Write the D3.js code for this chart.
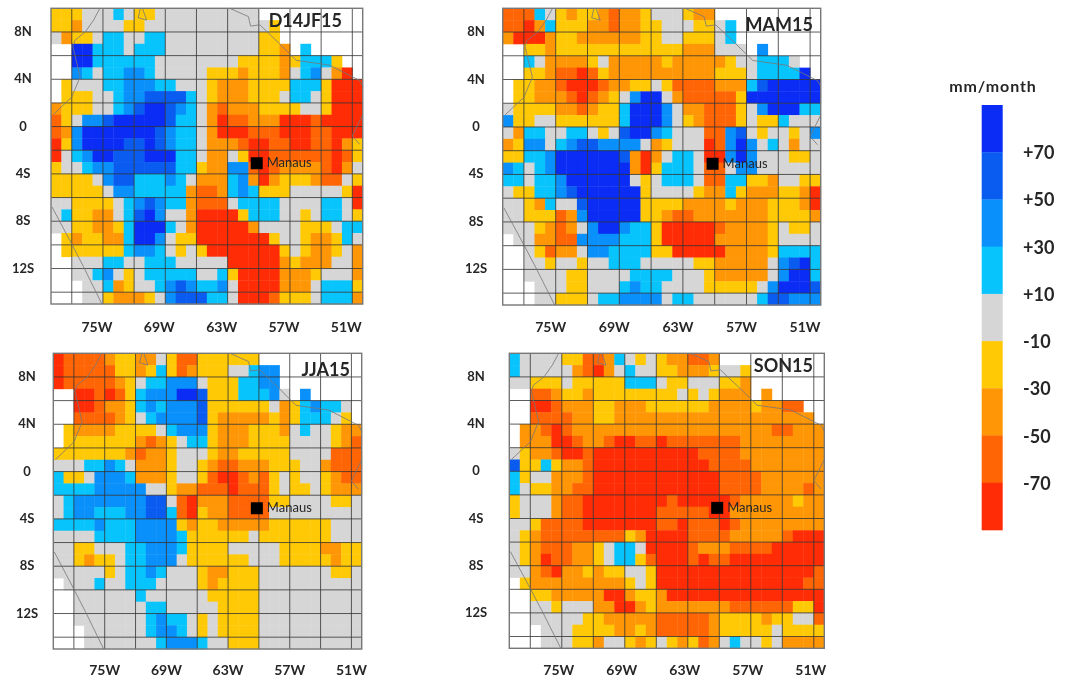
<!DOCTYPE html>
<html>

<head>
  <title>Rainfall anomalies 2015</title>
  <script src="https://d3js.org/d3.v7.min.js"></script>
  <style>
    html, body { margin: 0; padding: 0; background: #fff; }
    svg { display: block; filter: blur(0.75px); }
    text { font-family: Lato, sans-serif; fill: #262626; }
  </style>
</head>

<body>
  <svg id="chart"></svg>

<script>
  // one letter per 1 degree cell, rows run north to south, columns west to east
  // . no data, g -10..+10
  // c +10..30, s +30..50, b +50..70, n over +70
  // y -10..-30, o -30..-50, d -50..-70, r under -70
  const djfRows = [
    "yyygggcgyygggggggggg..........",
    "yyoggggyyggggggggggggy........",
    "goyygccggccgggggggggyy........",
    "..nncccgcccgggggggggyyo.c.....",
    "..nnccccccggggggggyyyyoycccy..",
    "..scgccsscgggggyyyoyyyogcsgor.",
    ".ygggccsssccgggyoooyyyycccyrrr",
    ".yyyggcssbbbbcgyoooyyygccgyrrr",
    "oyyyggcsbnnbscgodoooyyyyggyrrr",
    "dygssbnnnnnbccgorddooorrrdrrrr",
    "dosnnnnnnnbsccgorrrdddrrrddrrr",
    "rysnnnnbbnbsccgooodrrddrrddroy",
    "rgcsnnbbbnnnccgoogyrrddddddrdy",
    "yggcssbbbbbbccyoossdrdoooodrog",
    "yyyygsbbcccscgooocsoroyyyoddgy",
    "yyyyygsscccccoddocscyyygggggyr",
    "ggyyyygcsbsccodddgccccggggccgr",
    "gcyyoogcbnsggorrrrycccggygccgy",
    "ggyyooycnnncgorrrrroggggyyygcc",
    ".yoyyoocnnsgyyrrrrrrryggyooycg",
    ".yyyyyycsscgygyrrrrrrrygyooygo",
    "..gggccggcccgggggrrrrroyoooggo",
    "..ggcsgygcccccggcyrrrroooygggo",
    "...ggcoyggcsbsccsgrrrrooogcccy",
    "...ggyoooygsbbbccgrrrdyyygccco"
  ];

  const mamRows = [
    "dddcgyoyyodooygggyoo..........",
    "ddrocyyyoodooyygggyygc........",
    "orrroyyooooooyyggyyygc........",
    "..yyoyyyyyyyyyyyyoooggg.s.....",
    "..cgooooygoooooyoooooyggcccg..",
    "..yyoddrdyooooooooooyyygccccn.",
    ".yyoodrrrdooyygyddddooocbnnnnn",
    ".yyooodrdoygsnngodddddynnnnnnn",
    "gyyyyoodoyycnnnsgoodddygsnnncc",
    "syyggyyyyyycnnnsgyodddygyycggg",
    "goccggccgygbnnscgggddsbgyggygs",
    "oyssgcsbbssssgoygggrdsnsgcgogg",
    "yyccsnnnnnnborogccgrrsnsgggyyg",
    "scgcsnnnnnnnorycccgddgssgggggg",
    "ccgccsnnnnnngygcccgddccyyoggyy",
    "gyyccsbnnnnnnyggggyoocyoooyyor",
    "ggyocggbnnnnnyyyyooooyoooyyyor",
    "ggyyydosnnnnnyyoddoooooooyyyyo",
    "gggyodogsnnsccyrrrrrdooooygyyg",
    ".ggooddsssscccyrrrrroooooygggg",
    "..gydoogssccccyyrrrrrooooycccc",
    "..ggyggyggcccgggggyyooooogsbnc",
    "..ggggyyggggccccgggyooooogsnnc",
    "...gggyygggcsccggggyyyyygsnnnb",
    "...ggyyygccssssgccggggggcbbsss"
  ];

  const jjaRows = [
    "rddddoyyoogyddyyyyyy..........",
    "rdddddyyoycydoyyyggcss........",
    "rdddddoygccsssgyyyccss........",
    "..rrdrdycsssnnbyyycccsg.s.....",
    "..rrdooycscsssbyyyyyygoycsccg.",
    "..ddddoygcssssbyoooooyoycccgy.",
    ".yooooyyyygcsssyoooyyyogcggyoo",
    ".yyyyyyyodoygccyoooyyyyggggyod",
    "yyyyyyyodooygggyooyyyyyggggddd",
    "gggccscgoooyggyoddoooyyyggoddd",
    "cyygssscoooyggydrrdodygyggyodd",
    "ccccsssssggyoodddrdddygyygyooo",
    "gcsssssssbbgdroooddddyyggggyyg",
    "gcsscccssbbcdryooddddggggggggg",
    "ccccscccssssyoyyoooooyyyyyyggg",
    "ggggccccsssscyyyyyygyyyyyyyggg",
    "ggyygggccssscyyyygggggyyyyooyy",
    "ggyoyygccsssgyyyyyygggyyyyyoyy",
    "gggggygccscgggyooyyygggggggyyg",
    ".gggcggcccggggyoyyyygggggggggg",
    "..ggggggcggggggyyyyygggggggggg",
    "..gggggggccgggggyyyygggggggggg",
    "..gggggggcsccgygyyyygggggggggg",
    "...ggggggcsscgygyyyygggggggggg",
    "...gggggggcssscggyyygggggggggg"
  ];

  const sonRows = [
    "cggggyyddocgygyooddo..........",
    "cgggggodrogcggyyoooyggy.......",
    "ggyyygyyyyycccgyygggyyo.......",
    "..ddoyyoyyyyyyyygygyooo.o.....",
    "..rrdoooyyoooyyyyyyooooyoodd..",
    "..ddddooyyooooooooooooooooooo.",
    ".oodrdoooooooooooooooooooddooo",
    ".ooorrdoodrrddrdddddddoooooooo",
    "gyoodrrdrrrrrrrrrrddddoooooooo",
    "byycyoodrrrrrrrrrrrddddooooooo",
    "cyggooodrrrrrrrrrrrrddddoooooo",
    "cgyyooddrrrrrrrrrrrrddddoooodo",
    "ygggoddrrrrrrrrdrrrrrdoooooyoo",
    "ygggoddrrrrrrrdddddrrooooooooo",
    "ggyddddrrrrrrrddrdddrdoooooooo",
    "gyoddddddddyorrrrddddooooodrrr",
    "gyodddooygccgrrrrdoooddddrrrrr",
    "gyorddooygccydrrrdrddrrrrrrrrr",
    "ggodrooyoyyggyrrrrrrrrrrrrrrrd",
    ".yoooooooooygyrrrrrrrrrrrrrrdd",
    "..yyooooorroyyorrrrrrrrrrrrrrr",
    "..ggygggoorroyoooooooddddddyyr",
    "..gggggyyooooodddddoyyyyoyyggd",
    "...gggyyyyooyodddddoyyyyygyyyy",
    "...gggyyoggyoygyoydogcggygoooo"
  ];

  const panelNames = ["D14JF15", "MAM15", "JJA15", "SON15"];
  const panelRows = [djfRows, mamRows, jjaRows, sonRows];

  const classCodes = ["n", "b", "s", "c", "g", "y", "o", "d", "r"];
  const classColors = ["#0a2cf5", "#0a5cf0", "#0a90fa", "#08c4fd", "#d6d6d6", "#ffc905", "#ff9605", "#ff6405", "#ff2c05"];
  const legendLabels = ["+70", "+50", "+30", "+10", "-10", "-30", "-50", "-70"];

  const lonTicks = [-75, -69, -63, -57, -51];
  const latTicks = [8, 4, 0, -4, -8, -12];
  const manaus = { lon: -60.2, lat: -3.1, name: "Manaus" };

  // rough outlines of the coast and the borders [lon, lat]
  const outlines = [
    [[-75.3, 10], [-75.9, 9], [-76.7, 8], [-77.7, 7.3], [-77.9, 6.8], [-77.2, 4.2], [-78, 2.5], [-79.8, 1]],
    [[-79.9, -6.8], [-78.2, -9.6], [-76.9, -11.8], [-75.1, -15]],
    [[-62.8, 10], [-61, 9.3], [-60.8, 8.5], [-59.9, 8.6], [-58, 7], [-56.4, 5.6], [-53.2, 5.2], [-50.3, 3.9], [-50, 3.4]],
    [[-50, 1], [-51, -0.8], [-50.3, -1.5]],
    [[-71.2, 10], [-70.8, 9], [-71.6, 9.2], [-71.4, 10]]
  ];

  var width = 1065;
  var height = 684;

  var svg = d3.select("#chart")
    .attr("width", width)
    .attr("height", height);

  // where each panel sits on the page
  const panelBoxes = [
    { left: 51, right: 362.7, top: 8.3, bottom: 304, latX: 23, lonY: 332, lonShift: -6 },
    { left: 502.7, right: 820.7, top: 8.3, bottom: 305, latX: 476, lonY: 332, lonShift: -5 },
    { left: 53.3, right: 361.7, top: 353.3, bottom: 649, latX: 27, lonY: 675, lonShift: 0 },
    { left: 509.3, right: 824.3, top: 353.3, bottom: 648.3, latX: 476, lonY: 675, lonShift: -3 }
  ];
  const titleSpots = [
    { x: 342, y: 27 },
    { x: 813, y: 31 },
    { x: 350, y: 376 },
    { x: 813, y: 372 }
  ];

  var color = d3.scaleOrdinal().domain(classCodes).range(classColors);

  panelNames.forEach(function(name, p) {
    var box = panelBoxes[p];
    var g = svg.append("g").attr("class", "panel");

    var x = d3.scaleLinear().domain([-80, -50]).range([box.left, box.right]);
    var y = d3.scaleLinear().domain([10, -15]).range([box.top, box.bottom]);

    var cells = [];
    panelRows[p].forEach(function(row, r) {
      row.split("").forEach(function(code, c) {
        if (code != ".") cells.push({ lon: -80 + c, lat: 10 - r, code: code });
      });
    });

    g.selectAll(".cell")
      .data(cells)
      .enter()
      .append("rect")
      .attr("class", "cell")
      .attr("x", d => x(d.lon))
      .attr("y", d => y(d.lat))
      .attr("width", x(1) - x(0) + 0.4)
      .attr("height", y(0) - y(1) + 0.4)
      .attr("fill", d => color(d.code));

    // grid every 3 degrees across, every 2 degrees down
    g.selectAll(".gridV")
      .data(d3.range(-78, -50, 3))
      .enter()
      .append("line")
      .attr("x1", d => x(d))
      .attr("x2", d => x(d))
      .attr("y1", box.top)
      .attr("y2", box.bottom)
      .attr("stroke", "#333")
      .attr("stroke-opacity", 0.8);

    g.selectAll(".gridH")
      .data(d3.range(8, -15, -2))
      .enter()
      .append("line")
      .attr("x1", box.left)
      .attr("x2", box.right)
      .attr("y1", d => y(d))
      .attr("y2", d => y(d))
      .attr("stroke", "#333")
      .attr("stroke-opacity", 0.8);

    var outline = d3.line().x(d => x(d[0])).y(d => y(d[1]));

    g.selectAll(".outline")
      .data(outlines)
      .enter()
      .append("path")
      .attr("d", outline)
      .attr("fill", "none")
      .attr("stroke", "#777")
      .attr("stroke-opacity", 0.8)
      .attr("stroke-width", 1);

    g.append("rect")
      .attr("x", box.left)
      .attr("y", box.top)
      .attr("width", box.right - box.left)
      .attr("height", box.bottom - box.top)
      .attr("fill", "none")
      .attr("stroke", "#777")
      .attr("stroke-width", 1.4);

    g.append("rect")
      .attr("x", x(manaus.lon) - 6)
      .attr("y", y(manaus.lat) - 6)
      .attr("width", 12)
      .attr("height", 12)
      .attr("fill", "#000");

    g.append("text")
      .attr("x", x(manaus.lon) + 10)
      .attr("y", y(manaus.lat) + 4)
      .style("font-size", "13px")
      .text(manaus.name);

    g.append("text")
      .attr("x", titleSpots[p].x)
      .attr("y", titleSpots[p].y)
      .attr("text-anchor", "end")
      .style("font-size", "18px")
      .style("font-weight", 700)
      .text(name);

    g.selectAll(".lonLabel")
      .data(lonTicks)
      .enter()
      .append("text")
      .attr("x", d => x(d) + box.lonShift)
      .attr("y", box.lonY)
      .attr("text-anchor", "middle")
      .style("font-size", "14px")
      .style("font-weight", 700)
      .text(d => Math.abs(d) + "W");

    g.selectAll(".latLabel")
      .data(latTicks)
      .enter()
      .append("text")
      .attr("x", box.latX)
      .attr("y", d => y(d) + 4)
      .attr("text-anchor", "middle")
      .style("font-size", "13px")
      .style("font-weight", 700)
      .text(d => d == 0 ? "0" : Math.abs(d) + (d > 0 ? "N" : "S"));
  });

  // colour bar
  var legendY = d3.scaleBand().domain(classCodes).range([105, 530]);

  var legend = svg.append("g");

  legend.selectAll("rect")
    .data(classCodes)
    .enter()
    .append("rect")
    .attr("x", 981.7)
    .attr("y", d => legendY(d))
    .attr("width", 21)
    .attr("height", legendY.bandwidth() + 0.3)
    .attr("fill", d => color(d));

  legend.selectAll(".legendLabel")
    .data(legendLabels)
    .enter()
    .append("text")
    .attr("class", "legendLabel")
    .attr("x", 1023)
    .attr("y", (d, i) => legendY(classCodes[i + 1]) + 7)
    .style("font-size", "18px")
    .style("font-weight", 700)
    .text(d => d);

  legend.append("text")
    .attr("x", 993)
    .attr("y", 92)
    .attr("text-anchor", "middle")
    .style("font-size", "16px")
    .style("letter-spacing", "0.9px")
    .style("font-weight", 700)
    .text("mm/month");
</script>
</body>

</html>
